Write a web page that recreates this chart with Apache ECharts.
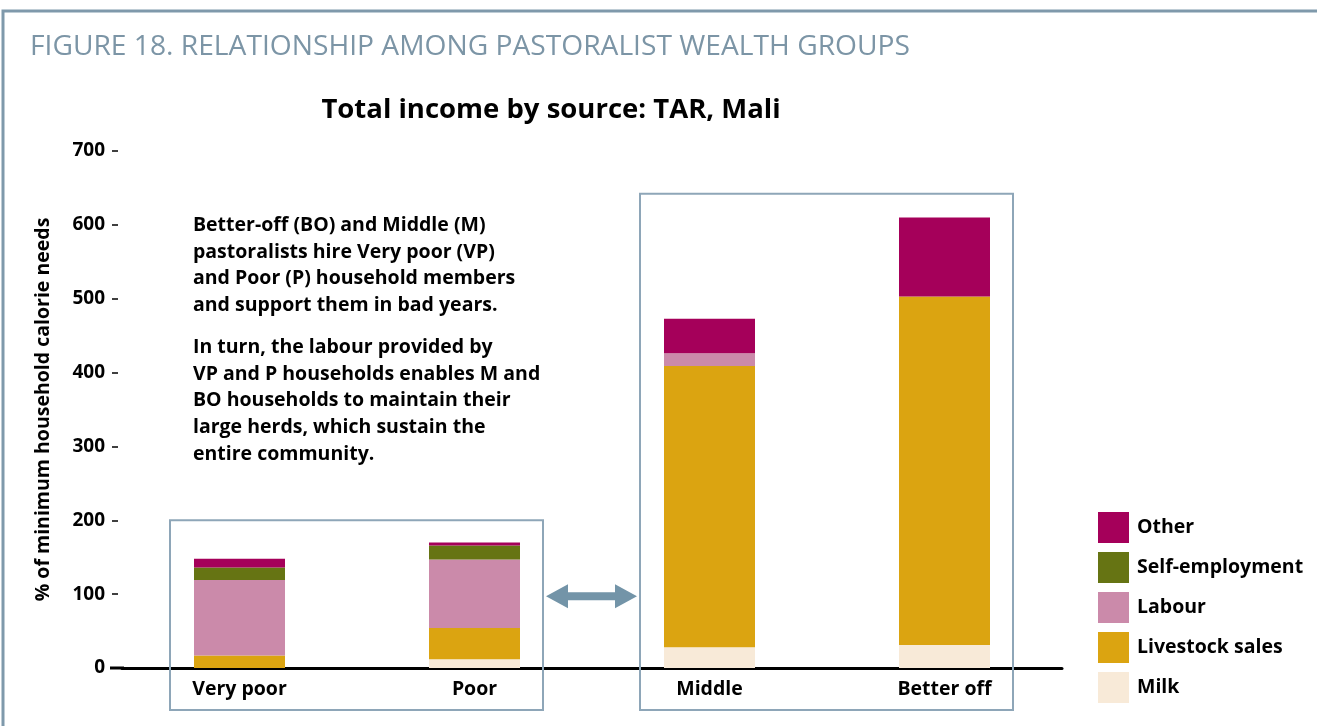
<!DOCTYPE html>
<html>
<head>
<meta charset="utf-8">
<script src="https://cdn.jsdelivr.net/npm/echarts@6/dist/echarts.min.js"></script>
<style>
html,body{margin:0;padding:0;background:#fff;}
#chart{width:1317px;height:726px;}
</style>
</head>
<body>
<div id="chart"></div>
<script>
const categories = ['Very poor', 'Poor', 'Middle', 'Better off'];
const milk = [0, 12, 28, 31];
const livestockSales = [17, 42, 381, 472];
const labour = [102, 93, 17, 0];
const selfEmployment = [17, 19, 0, 0];
const other = [12, 4, 47, 107];
const yTicks = [0, 100, 200, 300, 400, 500, 600, 700];

const FONT = '"Open Sans", sans-serif';
const frameColor = '#7f99ab';
const boxColor = '#8ea6b8';
const arrowColor = '#7394a8';

const chart = echarts.init(document.getElementById('chart'));
const barW = 91;

function mk(name, data, color) {
  return {
    name: name, type: 'bar', stack: 'total', data: data, barWidth: barW,
    itemStyle: { color: color }, emphasis: { disabled: true }
  };
}

chart.setOption({
  animation: false,
  title: {
    text: 'Total income by source: TAR, Mali',
    left: 546, top: 91, textAlign: 'center',
    textStyle: { fontFamily: FONT, fontWeight: 'bold', fontSize: 27.5, color: '#000' }
  },
  legend: {
    data: ['Other', 'Self-employment', 'Labour', 'Livestock sales', 'Milk'],
    orient: 'vertical', left: 1093, top: 507,
    itemWidth: 31, itemHeight: 31, itemGap: 9,
    icon: 'rect',
    textStyle: { fontFamily: FONT, fontWeight: 'bold', fontSize: 19.5, color: '#000', padding: [0, 0, 0, 3] }
  },
  grid: { left: 122, right: 255, top: 151, bottom: 58 },
  xAxis: {
    type: 'category', data: categories,
    axisLine: { lineStyle: { color: '#000', width: 3 } },
    axisTick: { show: false },
    axisLabel: { fontFamily: FONT, fontWeight: 'bold', fontSize: 19.5, color: '#000', margin: 11 }
  },
  yAxis: {
    type: 'value', min: 0, max: 700, interval: 100,
    offset: 4,
    name: '% of minimum household calorie needs',
    nameLocation: 'middle', nameRotate: 90, nameGap: 65,
    nameTextStyle: { fontFamily: FONT, fontWeight: 'bold', fontSize: 19.5, color: '#000' },
    axisLine: { show: false },
    splitLine: { show: false },
    axisTick: { show: true, length: 6, lineStyle: { color: '#000', width: 1.5 } },
    axisLabel: {
      fontFamily: FONT, fontWeight: 'bold', fontSize: 19, color: '#000', margin: 13,
      formatter: function (v) { return yTicks.indexOf(v) >= 0 ? String(v) : ''; }
    }
  },
  series: [
    mk('Milk', milk, '#f8ead8'),
    mk('Livestock sales', livestockSales, '#dba411'),
    mk('Labour', labour, '#cb8aaa'),
    mk('Self-employment', selfEmployment, '#667413'),
    mk('Other', other, '#a5005a')
  ]
});

function px(ci, v) { return chart.convertToPixel({ xAxisIndex: 0, yAxisIndex: 0 }, [ci, v]); }
const p0 = px(0, 0), p1 = px(1, 200), p2 = px(2, 642), p3 = px(3, 0);
const y0 = p0[1];
const lb = { l: p0[0] - barW / 2 - 24, r: p1[0] + barW / 2 + 23, t: p1[1], b: y0 + 42 };
const rb = { l: p2[0] - barW / 2 - 24, r: p3[0] + barW / 2 + 23, t: p2[1], b: y0 + 42 };
const ay = px(0, 97)[1];
const ax1 = lb.r + 3, ax2 = rb.l - 3, hw = 22, hh = 12, sh = 4;

chart.setOption({
  graphic: [
    { type: 'rect', shape: { x: 3, y: 11, width: 1400, height: 800 }, style: { fill: 'none', stroke: frameColor, lineWidth: 3 }, silent: true },
    {
      type: 'text', left: 30, top: 33,
      style: { text: 'FIGURE 18. RELATIONSHIP AMONG PASTORALIST WEALTH GROUPS', fill: '#7c95a6',
        font: '28.2px "Liberation Sans Narrow", "Open Sans", sans-serif' }
    },
    { type: 'line', shape: { x1: 110, y1: y0, x2: 124, y2: y0 }, style: { stroke: '#000', lineWidth: 3 }, silent: true },
    { type: 'rect', shape: { x: lb.l, y: lb.t, width: lb.r - lb.l, height: lb.b - lb.t }, style: { fill: 'none', stroke: boxColor, lineWidth: 2 }, silent: true, z: 10 },
    { type: 'rect', shape: { x: rb.l, y: rb.t, width: rb.r - rb.l, height: rb.b - rb.t }, style: { fill: 'none', stroke: boxColor, lineWidth: 2 }, silent: true, z: 10 },
    {
      type: 'polygon', silent: true, z: 10,
      shape: { points: [
        [ax1, ay], [ax1 + hw, ay - hh], [ax1 + hw, ay - sh], [ax2 - hw, ay - sh], [ax2 - hw, ay - hh],
        [ax2, ay], [ax2 - hw, ay + hh], [ax2 - hw, ay + sh], [ax1 + hw, ay + sh], [ax1 + hw, ay + hh]
      ] },
      style: { fill: arrowColor }
    },
    {
      type: 'text', left: 193, top: 212,
      style: {
        text: 'Better-off (BO) and Middle (M)\npastoralists hire Very poor (VP)\nand Poor (P) household members\nand support them in bad years.',
        font: 'bold 19.5px "Open Sans", sans-serif', fill: '#000', lineHeight: 26.7
      }
    },
    {
      type: 'text', left: 193, top: 334,
      style: {
        text: 'In turn, the labour provided by\nVP and P households enables M and\nBO households to maintain their\nlarge herds, which sustain the\nentire community.',
        font: 'bold 19.5px "Open Sans", sans-serif', fill: '#000', lineHeight: 26.7
      }
    }
  ]
});
</script>
</body>
</html>
